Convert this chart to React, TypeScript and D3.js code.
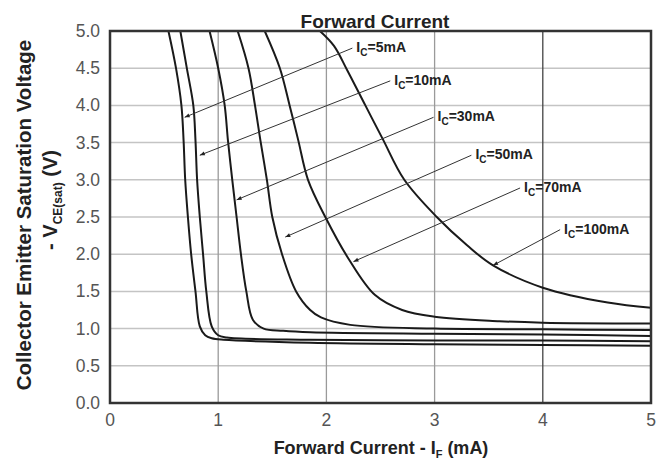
import * as d3 from 'd3';

const xTicks = [0, 1, 2, 3, 4, 5];
const yTicks = [0, 0.5, 1, 1.5, 2, 2.5, 3, 3.5, 4, 4.5, 5];

// Ic = 5mA ... 100mA, (forward current mA, Vce(sat) V)
const ic5 = [[0.54, 5.0], [0.61, 4.5], [0.66, 4.0], [0.68, 3.53], [0.695, 3.0], [0.72, 2.5], [0.75, 2.0], [0.79, 1.5], [0.83, 1.03], [0.88, 0.91], [0.94, 0.87], [1.05, 0.85], [1.85, 0.81], [3, 0.79], [4, 0.78], [5, 0.77]];
const ic10 = [[0.65, 5.0], [0.71, 4.5], [0.77, 4.0], [0.79, 3.53], [0.805, 3.0], [0.83, 2.5], [0.86, 2.0], [0.89, 1.5], [0.94, 1.03], [1.0, 0.91], [1.08, 0.88], [1.85, 0.85], [3, 0.84], [4, 0.84], [5, 0.83]];
const ic30 = [[0.92, 5.0], [1.0, 4.5], [1.06, 4.0], [1.09, 3.53], [1.13, 3.0], [1.17, 2.5], [1.21, 2.0], [1.26, 1.5], [1.32, 1.12], [1.42, 1.0], [1.6, 0.97], [1.85, 0.95], [3, 0.93], [4, 0.92], [5, 0.9]];
const ic50 = [[1.18, 5.0], [1.28, 4.5], [1.34, 4.0], [1.39, 3.53], [1.45, 3.0], [1.5, 2.5], [1.59, 2.0], [1.72, 1.5], [1.85, 1.25], [1.95, 1.15], [2.22, 1.05], [3.0, 1.0], [4, 0.99], [5, 0.98]];
const ic70 = [[1.43, 5.0], [1.57, 4.5], [1.66, 4.0], [1.74, 3.53], [1.83, 3.0], [1.99, 2.5], [2.2, 1.95], [2.45, 1.45], [2.7, 1.25], [3.0, 1.16], [3.6, 1.1], [4, 1.08], [5, 1.07]];
const ic100 = [[1.94, 5.0], [2.07, 4.8], [2.19, 4.48], [2.36, 4.0], [2.52, 3.55], [2.72, 3.0], [3.02, 2.5], [3.3, 2.12], [3.54, 1.85], [4.0, 1.55], [4.6, 1.35], [5, 1.28]];

const curves = [ic5, ic10, ic30, ic50, ic70, ic100];
const labels = ['5mA', '10mA', '30mA', '50mA', '70mA', '100mA'];
// leader line: tip on curve, start next to label
const arrowTips = [[0.69, 3.84], [0.83, 3.33], [1.17, 2.73], [1.62, 2.23], [2.25, 1.9], [3.54, 1.85]];
const labelAnchors = [[2.24, 4.77], [2.59, 4.33], [2.99, 3.84], [3.34, 3.33], [3.79, 2.89], [4.16, 2.33]];

const W = 664;
const H = 465;
const left = 110;
const right = 651;
const top = 31;
const bottom = 403;
const font = 'Liberation Sans, Arial, sans-serif';

export default function App() {
  const x = d3.scaleLinear().domain([0, 5]).range([left, right]);
  const y = d3.scaleLinear().domain([0, 5]).range([bottom, top]);

  const line = d3
    .line<number[]>()
    .x((d) => x(d[0]))
    .y((d) => y(d[1]))
    .curve(d3.curveCatmullRom.alpha(0.5));

  return (
    <svg width={W} height={H} style={{ position: 'absolute', left: 0, top: 0, background: '#fff' }}>
      <defs>
        <clipPath id='plot'>
          <rect x={left} y={top} width={right - left} height={bottom - top} />
        </clipPath>
        <marker id='arr' viewBox='0 0 10 10' refX='10' refY='5' markerWidth='7' markerHeight='5' orient='auto'>
          <path d='M0,1 L10,5 L0,9 Z' fill='#222' />
        </marker>
      </defs>

      {/* grid */}
      {yTicks.slice(1, -1).map((t) => (
        <line key={'h' + t} x1={left} x2={right} y1={y(t)} y2={y(t)} stroke='#c4c4c4' strokeWidth={1.5} />
      ))}
      {xTicks.slice(1, -1).map((t) => (
        <line
          key={'v' + t}
          x1={x(t)}
          x2={x(t)}
          y1={top}
          y2={bottom}
          stroke={t === 4 ? '#444' : '#9a9a9a'}
          strokeWidth={1.3}
        />
      ))}

      {/* curves */}
      <g clipPath='url(#plot)'>
        {curves.map((c, i) => (
          <path key={labels[i]} d={line(c) ?? ''} fill='none' stroke='#1a1a1a' strokeWidth={2} />
        ))}
      </g>

      {/* leaders + labels */}
      {labels.map((l, i) => (
        <g key={'lab' + l}>
          <line
            x1={x(labelAnchors[i][0])}
            y1={y(labelAnchors[i][1])}
            x2={x(arrowTips[i][0])}
            y2={y(arrowTips[i][1])}
            stroke='#333'
            strokeWidth={1}
            markerEnd='url(#arr)'
          />
          <text
            x={x(labelAnchors[i][0]) + 4}
            y={y(labelAnchors[i][1]) + 4}
            fontFamily={font}
            fontSize={14}
            fontWeight='bold'
            fill='#222'
          >
            I
            <tspan dy={4} fontSize={10}>
              C
            </tspan>
            <tspan dy={-4}>={l}</tspan>
          </text>
        </g>
      ))}

      {/* frame */}
      <rect x={left} y={top} width={right - left} height={bottom - top} fill='none' stroke='#333' strokeWidth={2.5} />

      {/* tick labels */}
      {yTicks.map((t) => (
        <text key={'yl' + t} x={left - 10} y={y(t) + 6} textAnchor='end' fontFamily={font} fontSize={17.5} fill='#555'>
          {t.toFixed(1)}
        </text>
      ))}
      {xTicks.map((t) => (
        <text key={'xl' + t} x={x(t)} y={bottom + 23} textAnchor='middle' fontFamily={font} fontSize={17.5} fill='#555'>
          {t}
        </text>
      ))}

      {/* titles */}
      <text x={375} y={28} textAnchor='middle' fontFamily={font} fontSize={19} fontWeight='bold' fill='#222'>
        Forward Current
      </text>
      <text x={381} y={454} textAnchor='middle' fontFamily={font} fontSize={18} fontWeight='bold' fill='#222'>
        Forward Current - I
        <tspan dy={4} fontSize={11}>
          F
        </tspan>
        <tspan dy={-4}> (mA)</tspan>
      </text>
      <text
        transform='translate(31,215) rotate(-90)'
        textAnchor='middle'
        fontFamily={font}
        fontSize={20.5}
        fontWeight='bold'
        fill='#222'
      >
        Collector Emitter Saturation Voltage
      </text>
      <text
        transform='translate(57,200) rotate(-90)'
        textAnchor='middle'
        fontFamily={font}
        fontSize={20}
        fontWeight='bold'
        fill='#222'
      >
        - V
        <tspan dy={5} fontSize={12}>
          CE(sat)
        </tspan>
        <tspan dy={-5}> (V)</tspan>
      </text>
    </svg>
  );
}
